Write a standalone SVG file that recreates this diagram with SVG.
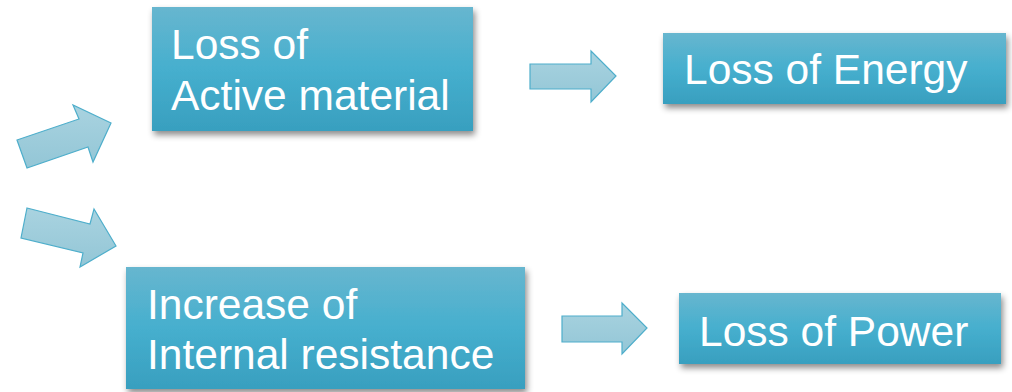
<svg xmlns="http://www.w3.org/2000/svg" width="1012" height="392" viewBox="0 0 1012 392">
<defs>
<linearGradient id="boxg" x1="0" y1="0" x2="0" y2="1">
<stop offset="0" stop-color="#67b6cf"/>
<stop offset="0.5" stop-color="#46afce"/>
<stop offset="1" stop-color="#389fbf"/>
</linearGradient>
<linearGradient id="arrg" x1="0" y1="0" x2="0" y2="1">
<stop offset="0" stop-color="#a9d3e0"/>
<stop offset="1" stop-color="#93c6d6"/>
</linearGradient>
<filter id="sh" x="-10%" y="-20%" width="120%" height="150%">
<feDropShadow dx="2" dy="4" stdDeviation="3" flood-color="#000" flood-opacity="0.45"/>
</filter>
</defs>
<style>
.box{fill:url(#boxg);filter:url(#sh);}
.lbl{font-family:"Liberation Sans",Arial,sans-serif;font-size:42.5px;fill:#ffffff;}
.arr{fill:url(#arrg);stroke:#4eaecb;stroke-width:1.2;stroke-linejoin:miter;}
</style>
<rect width="1012" height="392" fill="#ffffff"/>
<g id="connectors">
<polygon class="arr" points="17,140 79,119 73,105 111,123 93,162 88,147 27,168"/>
<polygon class="arr" points="27,208 90,224 94,209 116,246 80,267 83,253 21,238"/>
<polygon class="arr" points="530,64 591,64 591,51 616,76 591,102 591,89 530,89"/>
<polygon class="arr" points="562,316 622,316 622,303 647,328 622,354 622,342 562,342"/>
</g>
<g id="node-active">
<rect class="box" x="152" y="7" width="321" height="124"/>
<text class="lbl" x="171" y="59">Loss of</text>
<text class="lbl" x="171" y="110">Active material</text>
</g>
<g id="node-energy">
<rect class="box" x="663" y="33" width="343" height="71"/>
<text class="lbl" x="684" y="84">Loss of Energy</text>
</g>
<g id="node-resistance">
<rect class="box" x="126" y="267" width="399" height="122"/>
<text class="lbl" x="147" y="319">Increase of</text>
<text class="lbl" x="147" y="369">Internal resistance</text>
</g>
<g id="node-power">
<rect class="box" x="679" y="293" width="322" height="71"/>
<text class="lbl" x="699" y="346">Loss of Power</text>
</g>
</svg>
